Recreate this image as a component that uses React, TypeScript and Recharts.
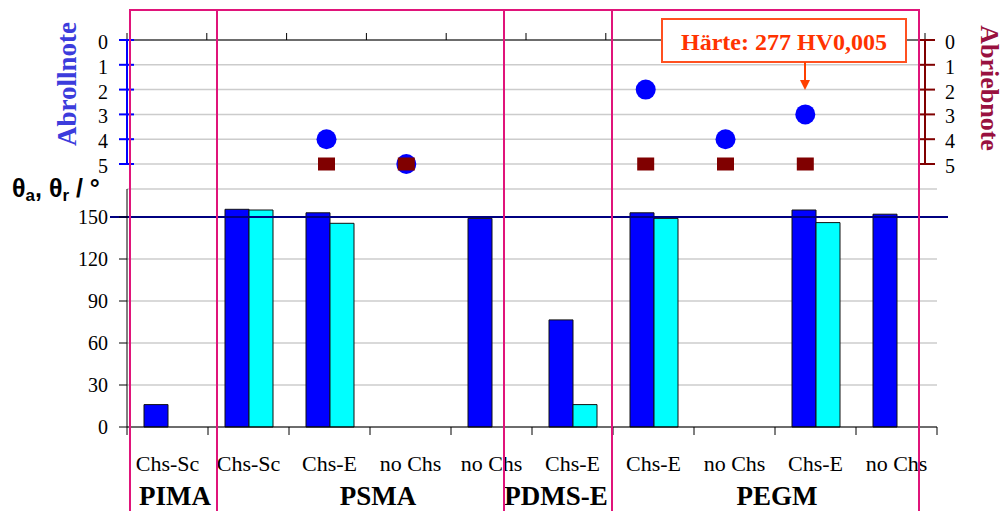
import React from 'react';
import { ScatterChart, Scatter, BarChart, Bar, XAxis, YAxis, CartesianGrid, ReferenceLine } from 'recharts';

// categories along the x axis (grouped by polymer)
const categories = ['Chs-Sc', 'Chs-Sc', 'Chs-E', 'no Chs', 'no Chs', 'Chs-E', 'Chs-E', 'no Chs', 'Chs-E', 'no Chs'];
const groups = ['PIMA', 'PSMA', 'PDMS-E', 'PEGM'];

// contact angles (advancing / receding), degrees
const thetaA = [16, 155.5, 153, null, 149, 76.5, 153, null, 155, 152];
const thetaR = [null, 155, 145.5, null, null, 16, 149, null, 146, null];

// grades, 0 = best, 5 = worst
const abrollnote = [null, null, 4, 5, null, null, 2, 4, 3, null];
const abriebnote = [null, null, 5, 5, null, null, 5, 5, 5, null];

const noteTicks = [0, 1, 2, 3, 4, 5];
const angleTicks = [0, 30, 60, 90, 120, 150];
const boundaryTicks = [0, 1, 2, 3, 4, 5, 6, 7, 8, 9, 10];
const haerteText = 'Härte: 277 HV0,005';

const SERIF = '"Liberation Serif", "Times New Roman", serif';
const SANS = '"Liberation Sans", Arial, sans-serif';

// layout
const GROUP_EDGES = [130, 217, 504, 612, 919];
const GROUP_LABEL_X = [175, 378, 556, 777];
const BAR_PLOT_W = 810;
const BAND = BAR_PLOT_W / categories.length;
const BAR_AXIS_Y = 257; // inside the lower chart

const barData = categories.map((c, i) => ({ id: i, cat: c, a: thetaA[i], r: thetaR[i] }));
const rollData = abrollnote.map((v, i) => ({ x: i + 0.5, y: v })).filter((d) => d.y !== null);
const riebData = abriebnote.map((v, i) => ({ x: i + 0.5, y: v })).filter((d) => d.y !== null);

const LeftNoteTick = (p: any) => (
  <g>
    <line x1={119} x2={134} y1={p.y} y2={p.y} stroke="#0000ff" strokeWidth={2} />
    <text x={108} y={p.y + 9} textAnchor="end" fontFamily={SERIF} fontSize={20} fill="#000">
      {p.payload.value}
    </text>
  </g>
);

const RightNoteTick = (p: any) => (
  <g>
    <line x1={920} x2={935} y1={p.y} y2={p.y} stroke="#800000" strokeWidth={2} />
    <text x={945} y={p.y + 9} textAnchor="start" fontFamily={SERIF} fontSize={20} fill="#000">
      {p.payload.value}
    </text>
  </g>
);

const CatTick = (p: any) => {
  const x = p.payload.coordinate;
  const i = p.index;
  return (
    <g>
      <line x1={x - BAND / 2} x2={x - BAND / 2} y1={BAR_AXIS_Y} y2={BAR_AXIS_Y + 8} stroke="#000" />
      {i === categories.length - 1 && (
        <line x1={x + BAND / 2} x2={x + BAND / 2} y1={BAR_AXIS_Y} y2={BAR_AXIS_Y + 8} stroke="#000" />
      )}
      <text x={x} y={BAR_AXIS_Y + 44} textAnchor="middle" fontFamily={SERIF} fontSize={22} fill="#000">
        {categories[i]}
      </text>
    </g>
  );
};

const Dot = (p: any) => <circle cx={p.cx} cy={p.cy} r={10} fill="#0000ff" />;
const Square = (p: any) => <rect x={p.cx - 8.5} y={p.cy - 6.5} width={17} height={13} fill="#800000" />;

export default function App() {
  return (
    <div style={{ position: 'absolute', left: 0, top: 0, width: 1005, height: 511, background: '#fff', overflow: 'hidden' }}>
      <div style={{ position: 'absolute', left: 0, top: 0 }}>
        <ScatterChart width={1005} height={200} margin={{ top: 30, right: 0, left: 0, bottom: 36 }}>
          <CartesianGrid yAxisId="l" vertical={false} stroke="#cccccc" strokeWidth={1.5} />
          <XAxis
            type="number"
            dataKey="x"
            orientation="top"
            height={10}
            domain={[0, 10]}
            ticks={boundaryTicks}
            tickSize={7}
            tickFormatter={() => ''}
            stroke="#000"
            allowDataOverflow
          />
          <YAxis
            yAxisId="l"
            type="number"
            dataKey="y"
            reversed
            domain={[0, 5]}
            ticks={noteTicks}
            width={127}
            axisLine={{ stroke: '#0000ff', strokeWidth: 2 }}
            tickLine={false}
            tick={LeftNoteTick}
          />
          <YAxis
            yAxisId="r"
            orientation="right"
            type="number"
            dataKey="y"
            reversed
            domain={[0, 5]}
            ticks={noteTicks}
            width={80}
            axisLine={{ stroke: '#800000', strokeWidth: 2 }}
            tickLine={false}
            tick={RightNoteTick}
          />
          <Scatter yAxisId="l" data={rollData} shape={Dot} isAnimationActive={false} />
          <Scatter yAxisId="r" data={riebData} shape={Square} isAnimationActive={false} />
        </ScatterChart>
      </div>

      <div style={{ position: 'absolute', left: 0, top: 170 }}>
        <BarChart
          width={1005}
          height={341}
          data={barData}
          margin={{ top: 19, right: 68, left: 0, bottom: 0 }}
          barGap={0}
          barSize={24}
        >
          <CartesianGrid vertical={false} stroke="#cccccc" strokeWidth={1.5} />
          <XAxis dataKey="id" height={84} interval={0} tickLine={false} axisLine={{ stroke: '#000' }} tick={CatTick} />
          <YAxis
            domain={[0, 170]}
            ticks={angleTicks}
            width={127}
            tickSize={8}
            tickMargin={11}
            axisLine={{ stroke: '#000' }}
            tickLine={{ stroke: '#000' }}
            tick={{ fill: '#000', fontSize: 20, fontFamily: SERIF }}
          />
          <Bar dataKey="a" fill="#0000ff" stroke="#111" strokeWidth={1} isAnimationActive={false} />
          <Bar dataKey="r" fill="#00ffff" stroke="#111" strokeWidth={1} isAnimationActive={false} />
          <ReferenceLine
            y={150}
            stroke="#000080"
            strokeWidth={2}
            shape={(p: any) => (
              <line x1={p.x1 - 17} y1={p.y1} x2={p.x2 + 11} y2={p.y2} stroke="#000080" strokeWidth={2} />
            )}
          />
        </BarChart>
      </div>

      <svg width={1005} height={511} style={{ position: 'absolute', left: 0, top: 0, pointerEvents: 'none' }}>
        <text
          transform="translate(76, 84) rotate(-90)"
          textAnchor="middle"
          fontFamily={SERIF}
          fontWeight="bold"
          fontSize={27}
          fill="#3c3cdc"
        >
          Abrollnote
        </text>
        <text
          transform="translate(981, 88) rotate(90)"
          textAnchor="middle"
          fontFamily={SERIF}
          fontWeight="bold"
          fontSize={26}
          fill="#99113f"
        >
          Abriebnote
        </text>
        <text x={12} y={197} fontFamily={SANS} fontWeight="bold" fontSize={25} fill="#000">
          θ<tspan fontSize={17} dy={4}>a</tspan>
          <tspan dy={-4}>, θ</tspan>
          <tspan fontSize={17} dy={4}>r</tspan>
          <tspan dy={-4}> / °</tspan>
        </text>

        {groups.map((g, i) => (
          <text key={g} x={GROUP_LABEL_X[i]} y={505} textAnchor="middle" fontFamily={SERIF} fontWeight="bold" fontSize={27} fill="#000">
            {g}
          </text>
        ))}

        {groups.map((g, i) => (
          <rect
            key={g + '-box'}
            x={GROUP_EDGES[i]}
            y={10}
            width={GROUP_EDGES[i + 1] - GROUP_EDGES[i]}
            height={530}
            fill="none"
            stroke="#e0147a"
            strokeWidth={2}
          />
        ))}

        <rect x={662} y={19} width={244} height={43} fill="#fff" stroke="#ff5020" strokeWidth={2} />
        <text x={784} y={50} textAnchor="middle" fontFamily={SERIF} fontWeight="bold" fontSize={24} fill="#ff3300">
          {haerteText}
        </text>
        <line x1={805} y1={62} x2={805} y2={81} stroke="#ff4000" strokeWidth={2} />
        <polygon points="800,80 810,80 805,90" fill="#ff4000" />
      </svg>
    </div>
  );
}
